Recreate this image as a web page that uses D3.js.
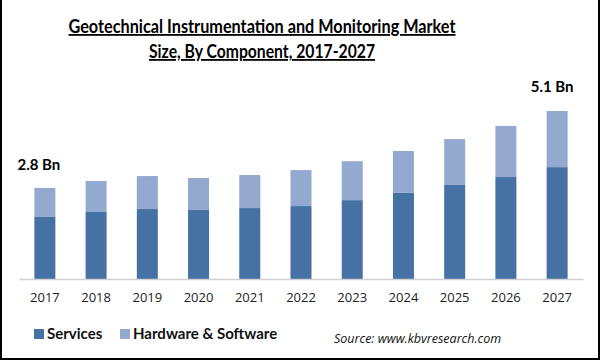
<!DOCTYPE html>
<html><head><meta charset="utf-8">
<script src="https://cdn.jsdelivr.net/npm/d3@7"></script>
<style>body{margin:0;background:#fff}svg{display:block}</style>
</head><body>
<svg id="c" width="601" height="360"></svg>
<script>
const years = ["2017","2018","2019","2020","2021","2022","2023","2024","2025","2026","2027"];
const services = [1.88,2.03,2.12,2.09,2.15,2.21,2.39,2.61,2.85,3.09,3.39];
const hardware = [0.88,0.94,1.00,0.97,1.00,1.09,1.18,1.27,1.39,1.55,1.70];
const seriesNames = ["Services","Hardware & Software"];
const colors = ["#4671a5","#93a9cf"];
const endLabels = ["2.8 Bn","5.1 Bn"];

const svg = d3.select("#c");
const font = "Lato, 'Open Sans', sans-serif";

// border
svg.append("rect").attr("x",1).attr("y",-2).attr("width",598).attr("height",361)
  .attr("fill","none").attr("stroke","#000").attr("stroke-width",2);

// title
const title = svg.append("g").attr("font-family",font).attr("font-weight","bold")
  .attr("font-size",18).attr("fill","#000").attr("text-anchor","middle");
title.append("text").attr("x",262).attr("y",33).attr("textLength",387).attr("lengthAdjust","spacingAndGlyphs")
  .attr("text-decoration","underline").text("Geotechnical Instrumentation and Monitoring Market");
title.append("text").attr("x",262).attr("y",58).attr("textLength",226).attr("lengthAdjust","spacingAndGlyphs")
  .attr("text-decoration","underline").text("Size, By Component, 2017-2027");

const x = d3.scaleBand().domain(years).range([19,583]).paddingInner(0.59).paddingOuter(0.3);
const y = d3.scaleLinear().domain([0,5.5]).range([279,279-5.5*33]);

const data = years.map((yr,i)=>({year:yr, Services:services[i], "Hardware & Software":hardware[i]}));
const stack = d3.stack().keys(seriesNames)(data);

svg.append("g").selectAll("g").data(stack).join("g").attr("fill",(d,i)=>colors[i])
  .selectAll("rect").data(d=>d).join("rect")
  .attr("x",d=>x(d.data.year)).attr("width",x.bandwidth())
  .attr("y",d=>y(d[1])).attr("height",d=>y(d[0])-y(d[1]));

// axis
const ax = svg.append("g").attr("transform",`translate(0,${y(0)})`)
  .call(d3.axisBottom(x).tickSize(0).tickPadding(14));
ax.select(".domain").attr("stroke","#d0d0d0").attr("stroke-width",1.5);
ax.selectAll("text").attr("font-family","'Open Sans', sans-serif").attr("font-size",13).attr("fill","#222");

// end labels
const totals = services.map((s,i)=>s+hardware[i]);
svg.append("text").attr("x",x(years[0])+x.bandwidth()/2-6).attr("y",y(totals[0])-18)
  .attr("text-anchor","middle").attr("font-family",font).attr("font-weight","bold").attr("font-size",15)
  .text(endLabels[0]);
svg.append("text").attr("x",x(years[10])+x.bandwidth()/2-5).attr("y",y(totals[10])-19)
  .attr("text-anchor","middle").attr("font-family",font).attr("font-weight","bold").attr("font-size",15)
  .text(endLabels[1]);

// legend
const lg = svg.append("g");
const lx = [34,120];
seriesNames.forEach((n,i)=>{
  lg.append("rect").attr("x",lx[i]).attr("y",329).attr("width",10).attr("height",10).attr("fill",colors[i]);
  lg.append("text").attr("x",lx[i]+13).attr("y",339).attr("font-family",font).attr("font-weight","bold")
    .attr("font-size",15).attr("fill","#111").text(n);
});
svg.append("text").attr("x",334).attr("y",343).attr("font-family","'Open Sans', sans-serif")
  .attr("font-style","italic").attr("font-size",12.5).attr("fill","#111").text("Source: www.kbvresearch.com");
</script>
</body></html>
